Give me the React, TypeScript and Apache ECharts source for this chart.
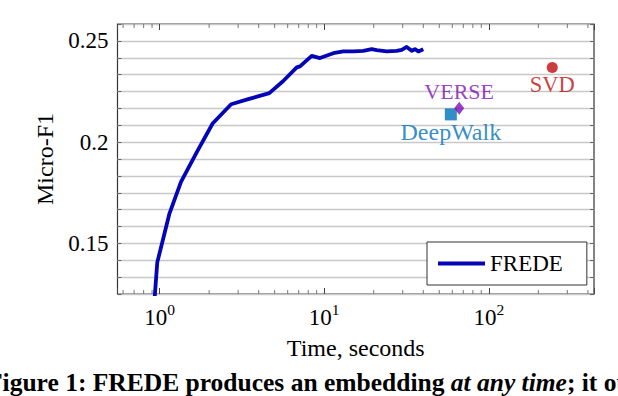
import React, { useEffect, useRef } from 'react';
import * as echarts from 'echarts';

// FREDE anytime curve (time in seconds, Micro-F1)
const fredeTime = [0.927, 0.968, 1.145, 1.349, 1.68, 2.10, 2.72, 3.46, 4.64, 5.64, 6.81, 7.13, 8.40, 9.43, 11.36, 13.06, 15.03, 17.28, 19.44, 20.84, 23.98, 27.57, 29.57, 31.7, 34.0, 35.6, 37.3, 40.0];
const fredeF1 = [0.120, 0.1406, 0.1644, 0.1804, 0.1949, 0.2092, 0.2187, 0.2212, 0.2242, 0.2302, 0.2369, 0.2374, 0.2426, 0.2415, 0.2439, 0.2448, 0.2448, 0.2451, 0.2459, 0.2454, 0.2448, 0.2451, 0.2456, 0.2470, 0.2451, 0.2459, 0.2448, 0.2459];

// Baselines: [time, Micro-F1]
const deepWalkPoint = [58.8, 0.2137];
const versePoint = [66.1, 0.2167];
const svdPoint = [243, 0.2369];

const yTickLabels = [0.15, 0.2, 0.25];
const xMinorMantissas = [2, 3, 4, 5, 6, 7, 8, 9];
const xDecades = [0.1, 1, 10, 100];

const X_MIN = 0.555;
const X_MAX = 435.6;
const Y_STEP = 1 / 120;
const Y_MIN = 15 * Y_STEP;
const Y_MAX = 31 * Y_STEP;

const FONT = 'Liberation Serif';

export default function App() {
  const ref = useRef<HTMLDivElement>(null);

  useEffect(() => {
    if (!ref.current) return;
    const chart = echarts.init(ref.current, undefined, { renderer: 'svg' });

    const minorTicks: number[][] = [];
    xDecades.forEach((d) =>
      xMinorMantissas.forEach((m) => {
        const v = m * d;
        if (v > X_MIN && v < X_MAX) minorTicks.push([v, Y_MIN]);
      })
    );

    const isPow10 = (v: number) => {
      const l = Math.log10(v);
      return Math.abs(l - Math.round(l)) < 1e-6;
    };

    const option: any = {
      animation: false,
      textStyle: { fontFamily: FONT, color: '#000' },
      grid: {
        left: 117.5,
        right: 24,
        top: 24,
        bottom: 102,
        show: true,
        borderColor: '#333',
        borderWidth: 1.2,
        backgroundColor: 'transparent',
      },
      legend: {
        data: ['FREDE'],
        left: 427,
        top: 242,
        icon: 'rect',
        itemWidth: 47,
        itemHeight: 4,
        padding: [10, 24, 10, 11],
        borderColor: '#333',
        borderWidth: 1,
        borderRadius: 0,
        backgroundColor: '#fff',
        textStyle: { fontFamily: FONT, fontSize: 23, color: '#000' },
        z: 10,
      },
      xAxis: [
        {
          type: 'log',
          logBase: 10,
          min: X_MIN,
          max: X_MAX,
          position: 'bottom',
          axisLine: { show: false },
          splitLine: { show: false },
          axisTick: { show: true, inside: true, length: 6, lineStyle: { color: '#444', width: 1 } },
          axisLabel: {
            margin: 7,
            formatter: (v: number) => (isPow10(v) ? `{b|10}{s|${Math.round(Math.log10(v))}}` : ''),
            rich: {
              b: { fontFamily: FONT, fontSize: 23, color: '#000', verticalAlign: 'bottom' },
              s: { fontFamily: FONT, fontSize: 15.5, color: '#000', verticalAlign: 'top', padding: [0, 0, 12, 0] },
            },
          },
          name: 'Time, seconds',
          nameLocation: 'middle',
          nameGap: 42,
          nameTextStyle: { fontFamily: FONT, fontSize: 24, color: '#000' },
        },
        {
          type: 'log',
          logBase: 10,
          min: X_MIN,
          max: X_MAX,
          position: 'top',
          axisLine: { show: false },
          splitLine: { show: false },
          axisLabel: { show: false },
          axisTick: { show: true, inside: true, length: 6, lineStyle: { color: '#444', width: 1 } },
        },
      ],
      yAxis: [
        {
          type: 'value',
          min: Y_MIN,
          max: Y_MAX,
          interval: Y_STEP,
          position: 'left',
          axisLine: { show: false },
          axisTick: { show: true, inside: true, length: 4, lineStyle: { color: '#666', width: 1 } },
          splitLine: { show: true, lineStyle: { color: '#c8c8c8', width: 1.4 } },
          axisLabel: {
            margin: 9,
            fontFamily: FONT,
            fontSize: 23,
            color: '#000',
            formatter: (v: number) =>
              yTickLabels.some((t) => Math.abs(t - v) < 1e-6) ? String(Math.round(v * 100) / 100) : '',
          },
          name: 'Micro-F1',
          nameLocation: 'middle',
          nameGap: 59,
          nameRotate: 90,
          nameTextStyle: { fontFamily: FONT, fontSize: 24, color: '#000' },
        },
        {
          type: 'value',
          min: Y_MIN,
          max: Y_MAX,
          interval: Y_STEP,
          position: 'right',
          axisLine: { show: false },
          axisLabel: { show: false },
          splitLine: { show: false },
          axisTick: { show: true, inside: true, length: 4, lineStyle: { color: '#666', width: 1 } },
        },
      ],
      series: [
        {
          name: 'FREDE',
          type: 'line',
          data: fredeTime.map((t, i) => [t, fredeF1[i]]),
          showSymbol: false,
          symbol: 'none',
          clip: true,
          color: '#0505b8',
          lineStyle: { color: '#0505b8', width: 3.8, join: 'round' },
          z: 5,
        },
        {
          name: 'DeepWalk',
          type: 'scatter',
          data: [deepWalkPoint],
          symbol: 'rect',
          symbolSize: 12,
          itemStyle: { color: '#0070b8' },
          label: {
            show: true,
            position: 'bottom',
            distance: 0,
            formatter: 'DeepWalk',
            fontFamily: FONT,
            fontSize: 24,
            color: '#0070b8',
          },
          z: 6,
        },
        {
          name: 'VERSE',
          type: 'scatter',
          data: [versePoint],
          symbol: 'diamond',
          symbolSize: [10, 13],
          itemStyle: { color: '#800cb4' },
          label: {
            show: true,
            position: 'top',
            distance: -1,
            formatter: 'VERSE',
            fontFamily: FONT,
            fontSize: 22,
            color: '#800cb4',
          },
          z: 7,
        },
        {
          name: 'SVD',
          type: 'scatter',
          data: [svdPoint],
          symbol: 'circle',
          symbolSize: 11,
          itemStyle: { color: '#c00c0c' },
          label: {
            show: true,
            position: 'bottom',
            distance: 0,
            formatter: 'SVD',
            fontFamily: FONT,
            fontSize: 22.5,
            color: '#c00c0c',
          },
          z: 6,
        },
        {
          name: 'xMinorTicks',
          type: 'custom',
          data: minorTicks,
          silent: true,
          z: 3,
          renderItem: (params: any, api: any) => {
            const v = api.value(0);
            const pb = api.coord([v, Y_MIN]);
            const pt = api.coord([v, Y_MAX]);
            const style = { stroke: '#777', lineWidth: 1 };
            return {
              type: 'group',
              children: [
                { type: 'line', shape: { x1: pb[0], y1: pb[1], x2: pb[0], y2: pb[1] - 4 }, style },
                { type: 'line', shape: { x1: pt[0], y1: pt[1], x2: pt[0], y2: pt[1] + 4 }, style },
              ],
            };
          },
        },
      ],
      graphic: [
        {
          type: 'text',
          x: -13,
          y: 369,
          style: {
            text: '{b|Figure 1: FREDE produces an embedding }{i|at any time}{b|; it outperforms}',
            verticalAlign: 'top',
            rich: {
              b: { fontFamily: FONT, fontSize: 25.5, fontWeight: 'bold', fill: '#000' },
              i: { fontFamily: FONT, fontSize: 25.5, fontWeight: 'bold', fontStyle: 'italic', fill: '#000' },
            },
          },
        },
      ],
    };

    chart.setOption(option);
    return () => chart.dispose();
  }, []);

  return (
    <div
      ref={ref}
      style={{ position: 'fixed', left: 0, top: 0, width: 618, height: 396, background: '#fff' }}
    />
  );
}
